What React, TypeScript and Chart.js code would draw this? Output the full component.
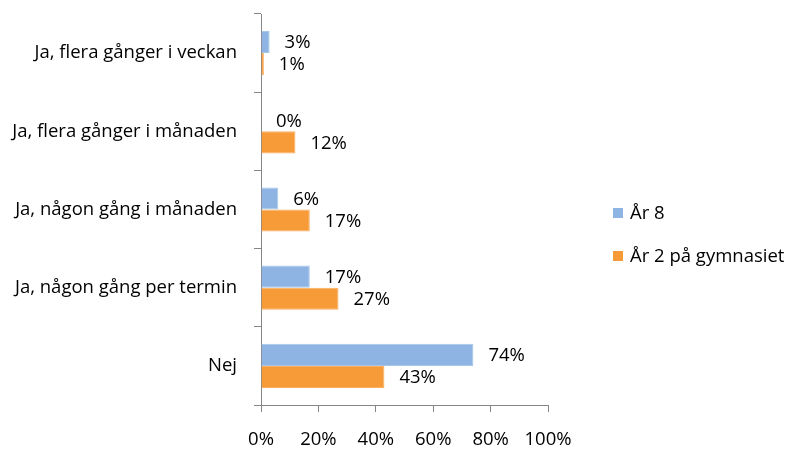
import React, { useEffect, useRef } from "react";
import { Chart, registerables } from "chart.js";
Chart.register(...registerables);

const categories = [
  "Ja, flera gånger i veckan",
  "Ja, flera gånger i månaden",
  "Ja, någon gång i månaden",
  "Ja, någon gång per termin",
  "Nej",
];
const seriesNames = ["År 8", "År 2 på gymnasiet"];
const year8 = [3, 0, 6, 17, 74];
const gymn2 = [1, 12, 17, 27, 43];
const xTicks = [0, 20, 40, 60, 80, 100];

const COLORS = ["#8DB4E2", "#F79A38"];
const FONT = "'Open Sans', 'Liberation Sans', sans-serif";
const FS = 18.5;

const labelsPlugin = {
  id: "barLabels",
  afterDatasetsDraw(chart: any) {
    const ctx = chart.ctx;
    ctx.save();
    ctx.font = `${FS}px ${FONT}`;
    ctx.fillStyle = "#000";
    ctx.textBaseline = "middle";
    ctx.textAlign = "left";
    chart.data.datasets.forEach((ds: any, di: number) => {
      const meta = chart.getDatasetMeta(di);
      meta.data.forEach((bar: any, i: number) => {
        ctx.fillText(`${ds.data[i]}%`, bar.x + 15, bar.y + 1);
      });
    });
    // legend
    const lx = 613;
    const ys = [213, 256];
    seriesNames.forEach((n, i) => {
      ctx.fillStyle = COLORS[i];
      ctx.fillRect(lx, ys[i] - 5, 10, 10);
      ctx.fillStyle = "#000";
      ctx.fillText(n, lx + 17, ys[i] + 1);
    });
    ctx.restore();
  },
};

export default function App() {
  const ref = useRef<HTMLCanvasElement>(null);
  useEffect(() => {
    document.body.style.margin = "0";
    const chart = new Chart(ref.current!, {
      type: "bar",
      data: {
        labels: categories,
        datasets: [
          {
            label: seriesNames[0],
            data: year8,
            backgroundColor: COLORS[0],
            borderColor: "#A9C6EA",
            borderWidth: 1,
            categoryPercentage: 0.565,
            barPercentage: 1,
          },
          {
            label: seriesNames[1],
            data: gymn2,
            backgroundColor: COLORS[1],
            borderColor: "#F9AE5F",
            borderWidth: 1,
            categoryPercentage: 0.565,
            barPercentage: 1,
          },
        ],
      },
      options: {
        indexAxis: "y",
        animation: false,
        responsive: false,
        layout: { padding: { top: 14, right: 239, left: 0, bottom: 0 } },
        plugins: { legend: { display: false }, tooltip: { enabled: false } },
        scales: {
          x: {
            min: 0,
            max: 100,
            afterBuildTicks(scale: any) {
              scale.ticks = xTicks.map((v) => ({ value: v }));
            },
            afterFit(scale: any) {
              scale.height = 45;
              scale.paddingLeft = 0;
              scale.paddingRight = 0;
            },
            border: { color: "#868686", width: 1 },
            grid: { drawOnChartArea: false, drawTicks: true, tickLength: 7, color: "#868686" },
            ticks: {
              callback: (v: any) => `${v}%`,
              color: "#000",
              font: { family: FONT, size: FS },
              padding: 17,
              maxRotation: 0,
            },
          },
          y: {
            afterFit(scale: any) {
              scale.width = 261;
              scale.paddingTop = 0;
              scale.paddingBottom = 0;
            },
            border: { color: "#868686", width: 1 },
            grid: { offset: true, drawOnChartArea: false, drawTicks: true, tickLength: 7, color: "#868686" },
            ticks: {
              color: "#000",
              font: { family: FONT, size: FS },
              padding: 17,
            },
          },
        },
      },
      plugins: [labelsPlugin],
    });
    return () => chart.destroy();
  }, []);
  return (
    <div style={{ width: 787, height: 450 }}>
      <canvas ref={ref} width={787} height={450} />
    </div>
  );
}
